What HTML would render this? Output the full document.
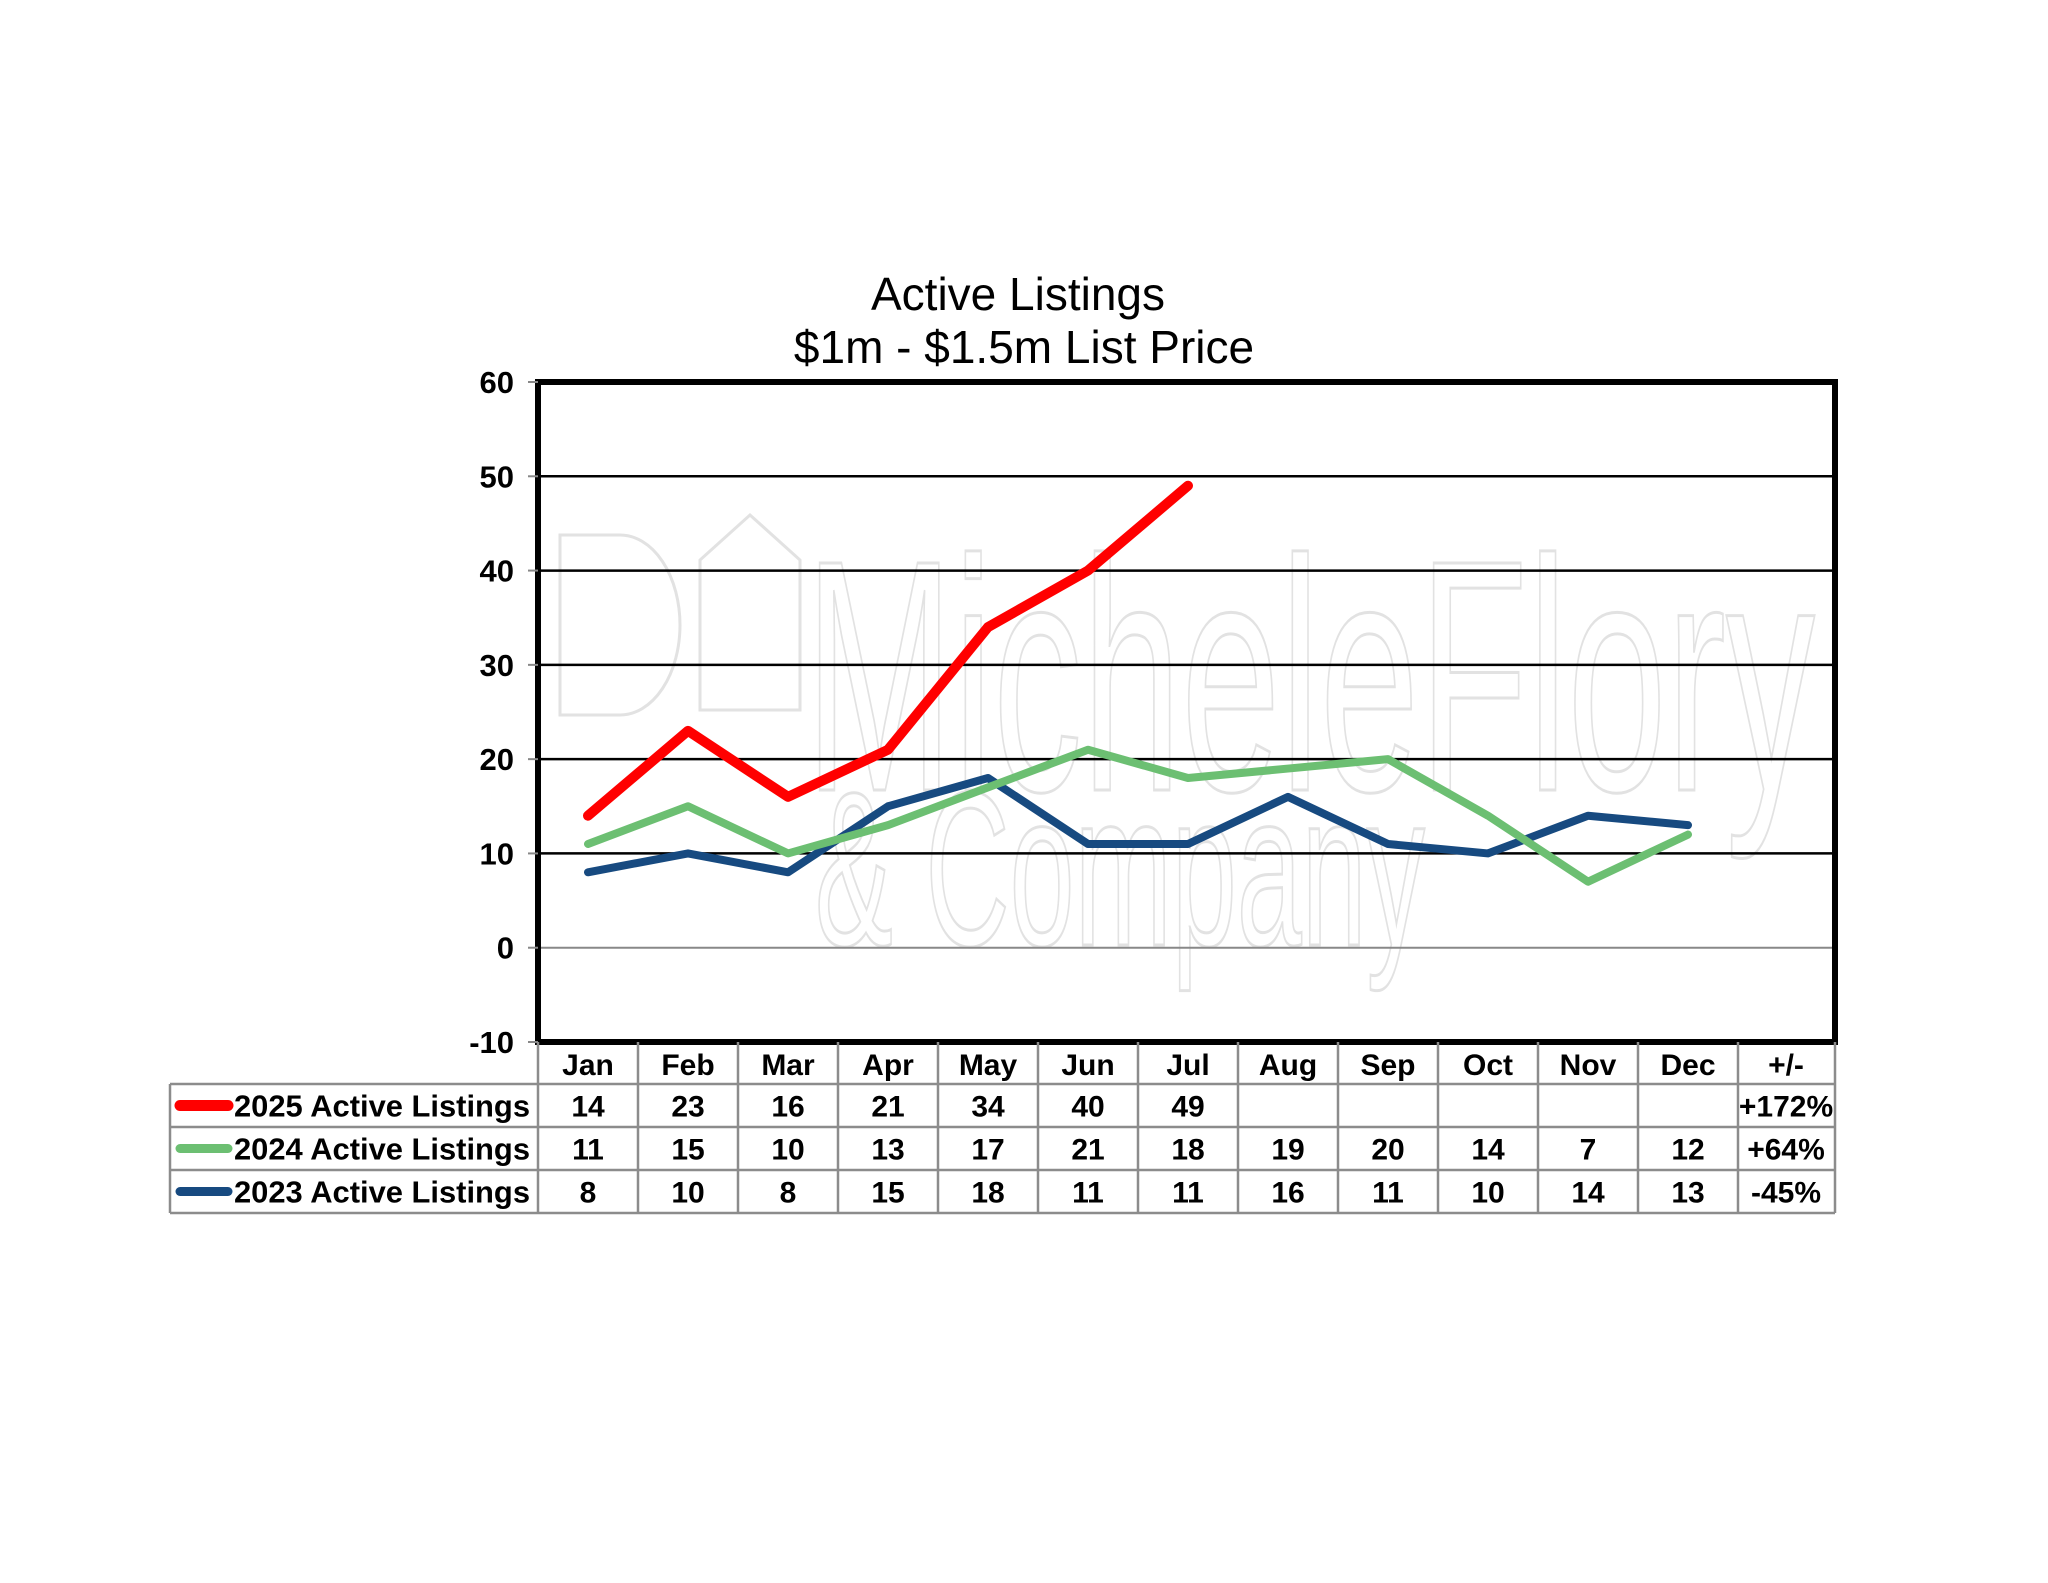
<!DOCTYPE html>
<html><head><meta charset="utf-8"><style>
html,body{margin:0;padding:0;background:#fff;}
svg{display:block;font-family:"Liberation Sans",Arial,sans-serif;}
</style></head><body>
<svg id="chart" width="2048" height="1583" viewBox="0 0 2048 1583">
<g id="watermark" fill="none" stroke="#e2e2e2" stroke-width="3">
  <text x="805" y="790" font-size="330" textLength="1010" lengthAdjust="spacingAndGlyphs">MicheleFlory</text>
  <text x="815" y="945" font-size="220" textLength="610" lengthAdjust="spacingAndGlyphs">&amp; Company</text>
  <path d="M560 535 h60 a60 90 0 0 1 0 180 h-60 z M700 710 v-150 l50 -45 l50 45 v150 z"/>
</g>
<g id="title" font-size="46" text-anchor="middle" fill="#000">
  <text x="1018" y="310">Active Listings</text>
  <text x="1024" y="363">$1m - $1.5m List Price</text>
</g>
<g id="grid"></g>
<g id="series"></g>
<rect x="538" y="382" width="1297" height="660" fill="none" stroke="#000" stroke-width="6"/>
<g id="yaxis"></g>
<g id="table"></g>
</svg>
<script>
const months = ["Jan","Feb","Mar","Apr","May","Jun","Jul","Aug","Sep","Oct","Nov","Dec"];
const s2025 = [14,23,16,21,34,40,49,null,null,null,null,null];
const s2024 = [11,15,10,13,17,21,18,19,20,14,7,12];
const s2023 = [8,10,8,15,18,11,11,16,11,10,14,13];
const seriesNames = ["2025 Active Listings","2024 Active Listings","2023 Active Listings"];
const changes = ["+172%","+64%","-45%"];
const yTicks = [60,50,40,30,20,10,0,-10];

const NS = "http://www.w3.org/2000/svg";
const x0 = 538, colW = 100, yTop = 382, yBot = 1042, yMax = 60, yMin = -10;
function xPos(i){ return x0 + colW*(i+0.5); }
function yPos(v){ return yTop + (yMax - v)/(yMax - yMin)*(yBot - yTop); }
function mk(tag, attrs, parent){ const e=document.createElementNS(NS,tag); for(const k in attrs) e.setAttribute(k,attrs[k]); parent.appendChild(e); return e; }

const grid = document.getElementById('grid');
const yaxis = document.getElementById('yaxis');
yTicks.forEach(t=>{
  const y = yPos(t);
  if(t!==yMax && t!==yMin){
    const l = mk('line',{x1:x0,x2:1835,y1:y,y2:y,stroke:t===0?'#888':'#000','stroke-width':t===0?2:2.5},grid);
    
    
  }
  const tk = mk('line',{x1:x0-10,x2:x0,y1:y,y2:y,stroke:'#888','stroke-width':2},yaxis);
  
  
  const tx = mk('text',{x:514,y:y+11,'font-size':31,'font-weight':'bold','text-anchor':'end'},yaxis);
  tx.textContent = t;
  
  
});

const colors = ["#ff0000","#6cbf72","#174a80"];
const widths = [10,8,8];
const data = [s2025,s2024,s2023];
const sg = document.getElementById('series');
[2,1,0].forEach(k=>{
  const pts = [];
  data[k].forEach((v,i)=>{ if(v!==null) pts.push(xPos(i)+','+yPos(v)); });
  const p = mk('polyline',{points:pts.join(' '),fill:'none',stroke:colors[k],'stroke-width':widths[k],'stroke-linejoin':'round','stroke-linecap':'round'},sg);
  
  
});

const tb = document.getElementById('table');
const rowTop = 1042, hdrH = 42, rowH = 43, tblLeft = 170, tblRight = 1835;
const gc = '#8c8c8c';
months.forEach((m,i)=>{
  const t = mk('text',{x:xPos(i),y:rowTop+33,'font-size':30,'font-weight':'bold','text-anchor':'middle'},tb);
  t.textContent = m;
  
  
});
const pm = mk('text',{x:1786,y:rowTop+33,'font-size':30,'font-weight':'bold','text-anchor':'middle'},tb);
pm.textContent = '+/-';


for(let c=0;c<=13;c++){
  const x = c<13 ? x0+colW*c : tblRight;
  const v = mk('line',{x1:x,x2:x,y1:rowTop,y2:rowTop+hdrH+3*rowH,stroke:gc,'stroke-width':2.5},tb);
  
  
}
const vl = mk('line',{x1:tblLeft,x2:tblLeft,y1:rowTop+hdrH,y2:rowTop+hdrH+3*rowH,stroke:gc,'stroke-width':2.5},tb);


for(let r=0;r<=3;r++){
  const y = rowTop+hdrH+r*rowH;
  const h = mk('line',{x1:tblLeft,x2:tblRight,y1:y,y2:y,stroke:gc,'stroke-width':2.5},tb);
  
  
}
data.forEach((arr,k)=>{
  const cy = rowTop+hdrH+k*rowH+rowH/2;
  const sw = mk('line',{x1:180,x2:228,y1:cy,y2:cy,stroke:colors[k],'stroke-width':k===0?11:9,'stroke-linecap':'round'},tb);
  
  
  const lb = mk('text',{x:234,y:cy+11,'font-size':31,'font-weight':'bold',textLength:296,lengthAdjust:'spacingAndGlyphs'},tb);
  lb.textContent = seriesNames[k];
  
  
  arr.forEach((v,i)=>{
    if(v===null) return;
    const t = mk('text',{x:xPos(i),y:cy+11,'font-size':30,'font-weight':'bold','text-anchor':'middle'},tb);
    t.textContent = v;
    
    
  });
  const c = mk('text',{x:1786,y:cy+11,'font-size':30,'font-weight':'bold','text-anchor':'middle'},tb);
  c.textContent = changes[k];
  
  
});
</script>
</body></html>
